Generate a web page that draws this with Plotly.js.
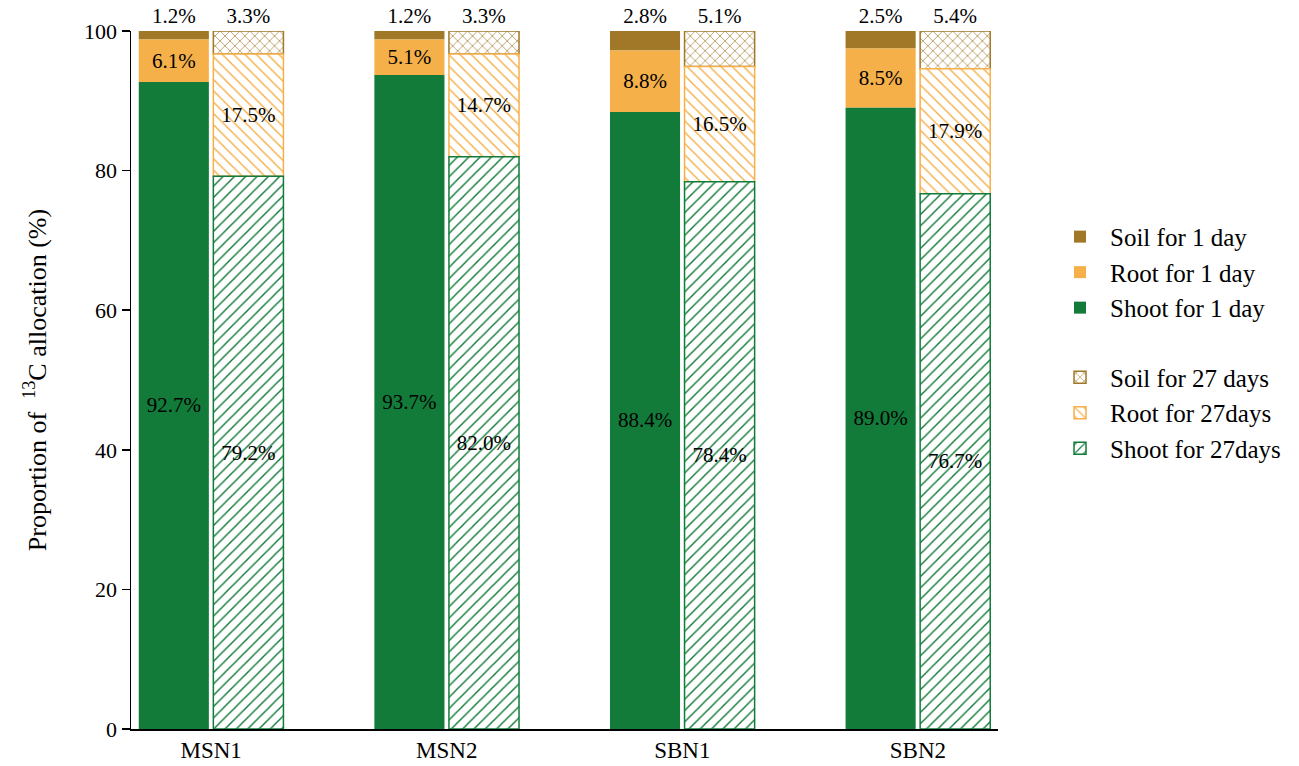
<!DOCTYPE html>
<html>
<head>
<meta charset="utf-8">
<script src="https://cdn.plot.ly/plotly-3.0.1.min.js"></script>
<style>
  html, body { margin: 0; padding: 0; background: #fff; }
  #chart { width: 1299px; height: 766px; }
</style>
</head>
<body>
<div id="chart"></div>
<script>
// ── data ─────────────────────────────────────────────────────────
const groups  = ['MSN1', 'MSN2', 'SBN1', 'SBN2'];
const shoot1  = [92.7, 93.7, 88.4, 89.0];
const root1   = [6.1, 5.1, 8.8, 8.5];
const soil1   = [1.2, 1.2, 2.8, 2.5];
const shoot27 = [79.2, 82.0, 78.4, 76.7];
const root27  = [17.5, 14.7, 16.5, 17.9];
const soil27  = [3.3, 3.3, 5.1, 5.4];
const yTicks  = [0, 20, 40, 60, 80, 100];

const FONT = 'Liberation Serif, Times New Roman, serif';
const BROWN = '#A07828', ORANGE = '#F5B04A', GREEN = '#137B3A';

const pct = arr => arr.map(v => v.toFixed(1) + '%');
const add = (a, b) => a.map((v, i) => v + b[i]);

function solid(name, y, base, color, pos) {
    return {
        type: 'bar', x: groups, y, base, name,
        offsetgroup: 'd1', legendgroup: 'd1',
        marker: { color, line: { width: 0 } },
        text: pct(y), textposition: pos, insidetextanchor: 'middle',
        textfont: { family: FONT, size: 21, color: '#000' },
        constraintext: 'none', cliponaxis: false, hoverinfo: 'none'
    };
}

function hatched(name, y, base, color, shape, size, pos) {
    return {
        type: 'bar', x: groups, y, base, name,
        offsetgroup: 'd27', legendgroup: 'd27',
        marker: {
            color: '#fff',
            line: { color, width: 1.5 },
            pattern: { shape, fgcolor: color, bgcolor: '#fff', size, solidity: 0.18 }
        },
        text: pct(y), textposition: pos, insidetextanchor: 'middle',
        textfont: { family: FONT, size: 21, color: '#000' },
        constraintext: 'none', cliponaxis: false, hoverinfo: 'none'
    };
}

const base0 = groups.map(() => 0);
const traces = [
    solid('Soil for 1 day', soil1, add(shoot1, root1), BROWN, 'outside'),
    solid('Root for 1 day', root1, shoot1, ORANGE, 'inside'),
    solid('Shoot for 1 day', shoot1, base0, GREEN, 'inside'),
    hatched('Soil for 27 days', soil27, add(shoot27, root27), BROWN, 'x', 7, 'outside'),
    hatched('Root for 27days', root27, shoot27, ORANGE, '\\', 8, 'inside'),
    hatched('Shoot for 27days', shoot27, base0, GREEN, '/', 8, 'inside')
];

const layout = {
    width: 1299, height: 766,
    margin: { l: 131, r: 301, t: 31, b: 37 },
    paper_bgcolor: '#fff', plot_bgcolor: '#fff',
    font: { family: FONT, size: 21, color: '#000' },
    barmode: 'group', bargap: 0.367, bargroupgap: 0.06,
    showlegend: true,
    legend: {
        x: 1.06, xanchor: 'left', y: 0.738, yanchor: 'top',
        traceorder: 'grouped', tracegroupgap: 34,
        font: { family: FONT, size: 25, color: '#000' },
        bgcolor: 'rgba(0,0,0,0)', itemwidth: 50
    },
    xaxis: {
        type: 'category', range: [-0.34, 3.34],
        showline: true, linecolor: '#000', linewidth: 1.5,
        ticks: '', showgrid: false, zeroline: false,
        tickfont: { family: FONT, size: 23 }
    },
    yaxis: {
        range: [0, 100], tickvals: yTicks,
        showline: true, linecolor: '#000', linewidth: 1.5,
        ticks: 'outside', ticklen: 8, tickwidth: 1.5, tickcolor: '#000',
        showgrid: false, zeroline: false,
        tickfont: { family: FONT, size: 22 },
        title: { text: 'Proportion of  <sup>13</sup>C allocation (%)', standoff: 30,
                 font: { family: FONT, size: 26 } }
    }
};

Plotly.newPlot('chart', traces, layout, { staticPlot: true, displayModeBar: false });
</script>
</body>
</html>
